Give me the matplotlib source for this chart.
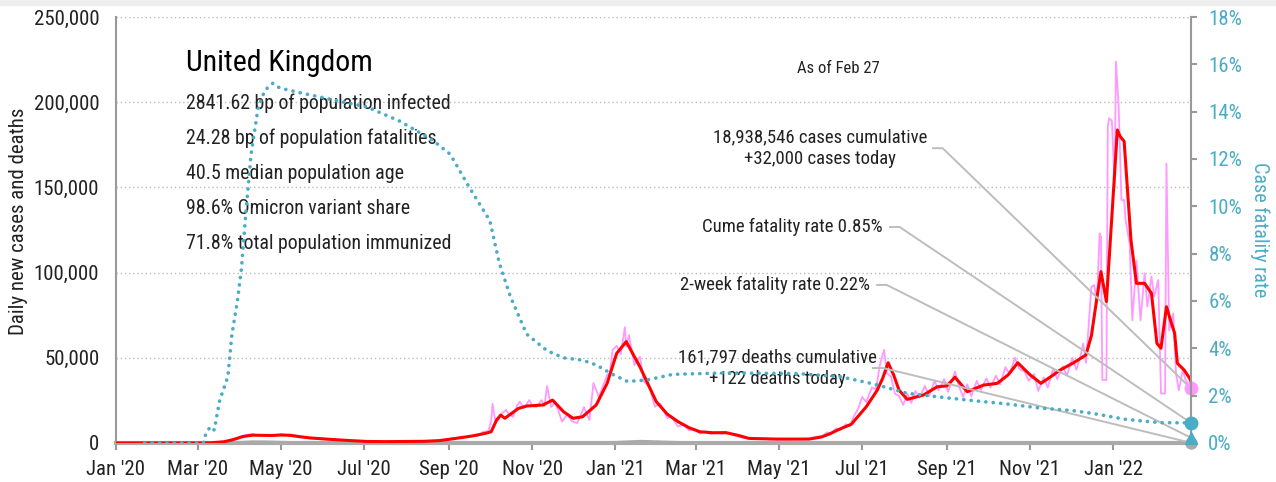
import matplotlib
matplotlib.use("Agg")
import matplotlib.pyplot as plt
import matplotlib.dates as mdates
from matplotlib.patches import Rectangle
from matplotlib.ticker import FuncFormatter, MultipleLocator
import pandas as pd

plt.rcParams["font.family"] = ["Roboto Condensed", "DejaVu Sans"]

TEAL = "#4bacc6"
PINK = "#ff99ff"
RED = "#ff0000"
GREY = "#aaaaaa"
LINK = "#bdbdbd"

# 7-day average of new cases
avg_dates = [
    "2020-01-01", "2020-03-01", "2020-03-10", "2020-03-20", "2020-03-27", "2020-04-03",
    "2020-04-10", "2020-04-17", "2020-04-24", "2020-05-01", "2020-05-08", "2020-05-15",
    "2020-05-22", "2020-06-05", "2020-06-19", "2020-07-03", "2020-07-17", "2020-07-31",
    "2020-08-14", "2020-08-25", "2020-09-06", "2020-09-18", "2020-09-28", "2020-10-02",
    "2020-10-06", "2020-10-09", "2020-10-12", "2020-10-22", "2020-10-28", "2020-11-09",
    "2020-11-16", "2020-11-24", "2020-12-01", "2020-12-08", "2020-12-18", "2020-12-26",
    "2021-01-02", "2021-01-09", "2021-01-19", "2021-01-31", "2021-02-08", "2021-02-16",
    "2021-02-24", "2021-03-04", "2021-03-14", "2021-03-23", "2021-04-01", "2021-04-09",
    "2021-04-29", "2021-05-23", "2021-06-01", "2021-06-07", "2021-06-14", "2021-06-23",
    "2021-07-04", "2021-07-12", "2021-07-16", "2021-07-20", "2021-07-24", "2021-07-28",
    "2021-08-03", "2021-08-15", "2021-08-25", "2021-09-01", "2021-09-07", "2021-09-16",
    "2021-09-28", "2021-10-08", "2021-10-16", "2021-10-23", "2021-11-01", "2021-11-09",
    "2021-11-18", "2021-11-23", "2021-12-03", "2021-12-12", "2021-12-16", "2021-12-20",
    "2021-12-23", "2021-12-27", "2021-12-31", "2022-01-04", "2022-01-06", "2022-01-09",
    "2022-01-14", "2022-01-18", "2022-01-24", "2022-01-29", "2022-02-02", "2022-02-05",
    "2022-02-09", "2022-02-12", "2022-02-15", "2022-02-17", "2022-02-22", "2022-02-26",
    "2022-02-27",
]
avg_cases = [
    0, 0, 100, 700, 2000, 3800,
    4600, 4500, 4400, 4700, 4500, 3700,
    3000, 2200, 1500, 900, 800, 900,
    1000, 1400, 2700, 4100, 5700, 6600,
    13500, 16400, 14500, 20300, 21700, 22300,
    25200, 18400, 14500, 15400, 22300, 35000,
    52600, 59500, 44800, 24300, 17000, 12500,
    9000, 6600, 6000, 6100, 4500, 2700,
    2300, 2300, 3500, 5300, 8000, 11000,
    21300, 31000, 38000, 47100, 40000, 31000,
    25600, 28200, 33000, 33500, 38600, 30100,
    34000, 35000, 40000, 47100, 40000, 35000,
    39900, 42800, 47100, 51700, 63000, 85000,
    100600, 83000, 133000, 183700, 180000, 177000,
    119000, 93700, 93700, 87900, 58500, 55600,
    80000, 72000, 64400, 46800, 42800, 38000,
    36000,
]

# reported new cases per day
daily_dates = [
    "2020-01-01", "2020-03-01", "2020-03-12", "2020-03-22", "2020-03-29", "2020-04-05",
    "2020-04-10", "2020-04-15", "2020-04-22", "2020-04-26", "2020-05-01", "2020-05-06",
    "2020-05-12", "2020-05-20", "2020-06-03", "2020-06-17", "2020-07-01", "2020-07-15",
    "2020-08-01", "2020-08-15", "2020-08-28", "2020-09-05", "2020-09-12", "2020-09-18",
    "2020-09-22", "2020-09-26", "2020-09-30", "2020-10-02", "2020-10-03", "2020-10-05",
    "2020-10-07", "2020-10-10", "2020-10-13", "2020-10-15", "2020-10-18", "2020-10-21",
    "2020-10-23", "2020-10-26", "2020-10-30", "2020-11-01", "2020-11-04", "2020-11-08",
    "2020-11-10", "2020-11-12", "2020-11-15", "2020-11-18", "2020-11-20", "2020-11-23",
    "2020-11-27", "2020-11-30", "2020-12-04", "2020-12-06", "2020-12-09", "2020-12-13",
    "2020-12-16", "2020-12-20", "2020-12-26", "2020-12-28", "2020-12-30", "2021-01-02",
    "2021-01-05", "2021-01-08", "2021-01-09", "2021-01-11", "2021-01-15", "2021-01-19",
    "2021-01-22", "2021-01-26", "2021-01-30", "2021-02-03", "2021-02-08", "2021-02-11",
    "2021-02-16", "2021-02-20", "2021-02-24", "2021-02-28", "2021-03-04", "2021-03-08",
    "2021-03-12", "2021-03-16", "2021-03-20", "2021-03-25", "2021-03-30", "2021-04-05",
    "2021-04-12", "2021-04-22", "2021-05-05", "2021-05-16", "2021-05-24", "2021-05-29",
    "2021-06-02", "2021-06-05", "2021-06-08", "2021-06-12", "2021-06-15", "2021-06-19",
    "2021-06-22", "2021-06-25", "2021-06-28", "2021-07-01", "2021-07-04", "2021-07-08",
    "2021-07-11", "2021-07-14", "2021-07-17", "2021-07-19", "2021-07-22", "2021-07-25",
    "2021-07-28", "2021-07-31", "2021-08-03", "2021-08-06", "2021-08-09", "2021-08-12",
    "2021-08-16", "2021-08-19", "2021-08-23", "2021-08-26", "2021-08-30", "2021-09-02",
    "2021-09-07", "2021-09-10", "2021-09-13", "2021-09-16", "2021-09-19", "2021-09-23",
    "2021-09-26", "2021-09-30", "2021-10-03", "2021-10-07", "2021-10-10", "2021-10-14",
    "2021-10-17", "2021-10-21", "2021-10-24", "2021-10-28", "2021-10-31", "2021-11-04",
    "2021-11-07", "2021-11-11", "2021-11-14", "2021-11-18", "2021-11-21", "2021-11-25",
    "2021-11-28", "2021-12-02", "2021-12-05", "2021-12-08", "2021-12-10", "2021-12-12",
    "2021-12-16", "2021-12-18", "2021-12-20", "2021-12-22", "2021-12-23", "2021-12-24",
    "2021-12-27", "2021-12-28", "2021-12-29", "2021-12-31", "2022-01-02", "2022-01-03",
    "2022-01-05", "2022-01-07", "2022-01-09", "2022-01-10", "2022-01-13", "2022-01-15",
    "2022-01-18", "2022-01-21", "2022-01-24", "2022-01-26", "2022-01-29", "2022-01-31",
    "2022-02-03", "2022-02-05", "2022-02-08", "2022-02-09", "2022-02-11", "2022-02-14",
    "2022-02-16", "2022-02-18", "2022-02-21", "2022-02-23", "2022-02-27",
]
daily_cases = [
    0, 0, 200, 1200, 2800, 4700,
    5300, 4300, 4800, 4200, 5200, 4400,
    3500, 2900, 2100, 1400, 800, 700,
    900, 1100, 1500, 2900, 3400, 4300,
    4000, 6500, 7000, 12900, 23000, 13000,
    13500, 17500, 19400, 17000, 15300, 22000,
    24300, 20500, 25200, 22000, 21100, 25200,
    21500, 33400, 21100, 24000, 19500, 12500,
    17000, 12800, 11700, 15000, 21100, 13500,
    35200, 27000, 39900, 41000, 54600, 57000,
    52000, 68000, 56500, 63400, 45800, 50600,
    36000, 33000, 21300, 23000, 14700, 15500,
    9600, 11000, 7500, 8000, 5500, 6800,
    5200, 6400, 5300, 6000, 4200, 3000,
    2500, 2200, 2000, 2300, 2700, 3800,
    4100, 6200, 5300, 8600, 7500, 11000,
    10000, 16000, 20000, 27000, 24000, 32500,
    31500, 46000, 54600, 41000, 39000, 29000,
    27500, 22300, 29000, 23500, 30500, 26500,
    33500, 27500, 36500, 31000, 37500, 30000,
    41900, 33000, 27000, 34500, 27500, 36500,
    31000, 38000, 32500, 39500, 34500, 44500,
    40500, 50000, 43500, 42000, 36500, 40500,
    30500, 38500, 32500, 43500, 37500, 45000,
    39500, 50000, 43000, 51000, 58500, 47000,
    91700, 92700, 82000, 123000, 121000, 37000,
    37000, 185700, 190600, 189000, 150000, 223800,
    197000, 142600, 142600, 131000, 117000, 72000,
    107000, 72000, 99600, 80000, 97600, 85900,
    95700, 29000, 29000, 164000, 66000, 76000,
    41000, 31000, 42800, 37000, 32000,
]

# 7-day average of new deaths
death_dates = [
    "2020-01-01", "2020-03-10", "2020-03-25", "2020-04-10", "2020-04-20", "2020-05-10",
    "2020-06-01", "2020-07-01", "2020-09-01", "2020-10-01", "2020-11-01", "2020-12-01",
    "2021-01-01", "2021-01-20", "2021-02-10", "2021-03-01", "2021-04-01", "2021-06-01",
    "2021-07-15", "2021-08-15", "2021-10-01", "2021-11-01", "2021-12-01", "2022-01-10",
    "2022-02-01", "2022-02-27",
]
deaths = [
    0, 0, 300, 950, 900, 500,
    250, 80, 15, 60, 250, 420,
    600, 1250, 700, 300, 40, 10,
    50, 100, 120, 160, 120, 250,
    260, 122,
]

# case fatality rate, %
cfr_dates = [
    "2020-01-22", "2020-03-05", "2020-03-06", "2020-03-10", "2020-03-13", "2020-03-17",
    "2020-03-23", "2020-03-26", "2020-03-30", "2020-04-02", "2020-04-05", "2020-04-09",
    "2020-04-14", "2020-04-19", "2020-04-25", "2020-04-30", "2020-05-15", "2020-06-08",
    "2020-07-03", "2020-07-27", "2020-08-20", "2020-09-02", "2020-09-16", "2020-10-01",
    "2020-10-08", "2020-10-16", "2020-10-28", "2020-11-12", "2020-11-24", "2020-12-08",
    "2020-12-18", "2020-12-30", "2021-01-10", "2021-01-24", "2021-02-12", "2021-03-22",
    "2021-05-16", "2021-06-15", "2021-07-09", "2021-08-03", "2021-08-27", "2021-09-20",
    "2021-10-15", "2021-11-08", "2021-12-02", "2021-12-17", "2022-01-10", "2022-02-04",
    "2022-02-27",
]
cfr = [
    0, 0, 0.27, 0.69, 0.55, 1.8,
    2.8, 4.6, 6.0, 7.4, 9.6, 12.2,
    14.1, 14.9, 15.2, 15.0, 14.8, 14.5,
    14.2, 13.6, 12.8, 12.2, 10.8, 9.4,
    7.6, 6.2, 4.6, 3.9, 3.6, 3.5,
    3.3, 2.9, 2.6, 2.66, 2.9, 2.96,
    2.93, 2.8, 2.5, 2.1, 1.94, 1.79,
    1.65, 1.48, 1.37, 1.25, 1.0, 0.86,
    0.85,
]

as_of = "2022-02-27"
cases_today = 32000
deaths_today = 122
cume_cfr = 0.85
two_week_cfr = 0.22

stats = [
    "2841.62 bp of population infected",
    "24.28 bp of population fatalities",
    "40.5 median population age",
    "98.6% Omicron variant share",
    "71.8% total population immunized",
]

W, H = 1276, 482
fig = plt.figure(figsize=(W / 100, H / 100), dpi=100)
fig.add_artist(Rectangle((0, 1 - 5 / H), 1, 5 / H, transform=fig.transFigure,
                         color="#eeeeee", zorder=-1))
ax = fig.add_axes([116 / W, 1 - 443 / H, 1075 / W, 426 / H])
ax2 = ax.twinx()

end = pd.Timestamp(as_of)

ax.plot(pd.to_datetime(daily_dates), daily_cases, color=PINK, lw=1.3, zorder=2)
ax.plot(pd.to_datetime(death_dates), deaths, color=GREY, lw=1.5, zorder=2)
ax.plot(pd.to_datetime(avg_dates), avg_cases, color=RED, lw=2.2, zorder=3)
ax2.plot(pd.to_datetime(cfr_dates), cfr, color=TEAL, lw=2.6,
         linestyle=(0, (0.05, 2.0)), dash_capstyle="round", zorder=3)

ax.set_xlim(pd.Timestamp("2020-01-01"), end)
ax.set_ylim(0, 250000)
ax2.set_ylim(0, 18)

# axes styling
ax.yaxis.set_major_locator(MultipleLocator(50000))
ax.yaxis.set_major_formatter(FuncFormatter(lambda v, p: f"{v:,.0f}"))
ax2.yaxis.set_major_locator(MultipleLocator(2))
ax2.yaxis.set_major_formatter(FuncFormatter(lambda v, p: f"{v:.0f}%"))
ax.xaxis.set_major_locator(mdates.MonthLocator(bymonth=[1, 3, 5, 7, 9, 11]))
ax.xaxis.set_major_formatter(mdates.DateFormatter("%b '%y"))

ax.grid(axis="y", linestyle=(0, (1, 2)), color="#bbbbbb", lw=1)
ax.set_axisbelow(True)
ax.tick_params(axis="y", length=0, pad=12, labelsize=15, labelcolor="#222222")
ax.tick_params(axis="x", length=5, width=1.5, color="#999999", pad=7,
               labelsize=15, labelcolor="#222222")
ax2.tick_params(axis="y", length=4.5, width=1.5, color="#999999", pad=8,
                labelsize=15, labelcolor=TEAL)

for a in (ax, ax2):
    a.spines["top"].set_visible(False)
ax.spines["right"].set_visible(False)
ax2.spines["left"].set_visible(False)
ax2.spines["bottom"].set_visible(False)
ax.spines["left"].set_color("#999999")
ax.spines["left"].set_linewidth(1.5)
ax.spines["bottom"].set_color("#aaaaaa")
ax.spines["bottom"].set_linewidth(3)
ax2.spines["right"].set_color("#999999")
ax2.spines["right"].set_linewidth(1.5)

ax.set_ylabel("Daily new cases and deaths", fontsize=15, color="#222222",
              va="center")
ax.yaxis.set_label_coords(-0.091, 0.52)
ax2.set_ylabel("Case fatality rate", fontsize=14.5, color=TEAL, rotation=270,
               va="center")
ax2.yaxis.set_label_coords(1.064, 0.5)

# header block
ax.text(0.065, 0.892, "United Kingdom", transform=ax.transAxes, fontsize=21.5,
        va="center", ha="left", color="#000000", zorder=4)
for i, line in enumerate(stats):
    ax.text(0.065, 0.798 - i * 0.0822, line, transform=ax.transAxes, fontsize=14.3,
            va="center", ha="left", color="#222222", zorder=4)
ax.text(0.672, 0.880, "As of Feb 27", transform=ax.transAxes, fontsize=12,
        va="center", ha="center", color="#222222")

# end-of-series markers
ax.plot(end, cases_today, "o", ms=9, color=PINK, clip_on=False, zorder=6)
ax.plot(end, deaths_today, "o", ms=8, color=GREY, clip_on=False, zorder=6)
ax2.plot(end, cume_cfr, "o", ms=9, color=TEAL, clip_on=False, zorder=6)
ax2.plot(end, two_week_cfr, "^", ms=9, color=TEAL, clip_on=False, zorder=6)


def callout(text, xy, ha, start, bend, target_ax, value):
    ax.text(xy[0], xy[1], text, transform=ax.transAxes, fontsize=13.5, ha=ha,
            va="center", multialignment="center", linespacing=1.3,
            color="#222222", zorder=4)
    tx, ty = ax.transAxes.inverted().transform(
        target_ax.transData.transform((mdates.date2num(end), value)))
    ax.plot([start, bend, tx], [xy[1], xy[1], ty], transform=ax.transAxes,
            color=LINK, lw=1.4, clip_on=False, zorder=5)


callout(f"18,938,546 cases cumulative\n+{cases_today:,} cases today",
        (0.655, 0.692), "center", 0.760, 0.769, ax, cases_today)
callout(f"Cume fatality rate {cume_cfr:.2f}%", (0.7135, 0.507), "right",
        0.720, 0.729, ax2, cume_cfr)
callout(f"2-week fatality rate {two_week_cfr:.2f}%", (0.7014, 0.371), "right",
        0.708, 0.717, ax2, two_week_cfr)
callout(f"161,797 deaths cumulative\n+{deaths_today} deaths today",
        (0.615, 0.176), "center", 0.704, 0.7135, ax, deaths_today)

fig.savefig("out.png", dpi=100)
